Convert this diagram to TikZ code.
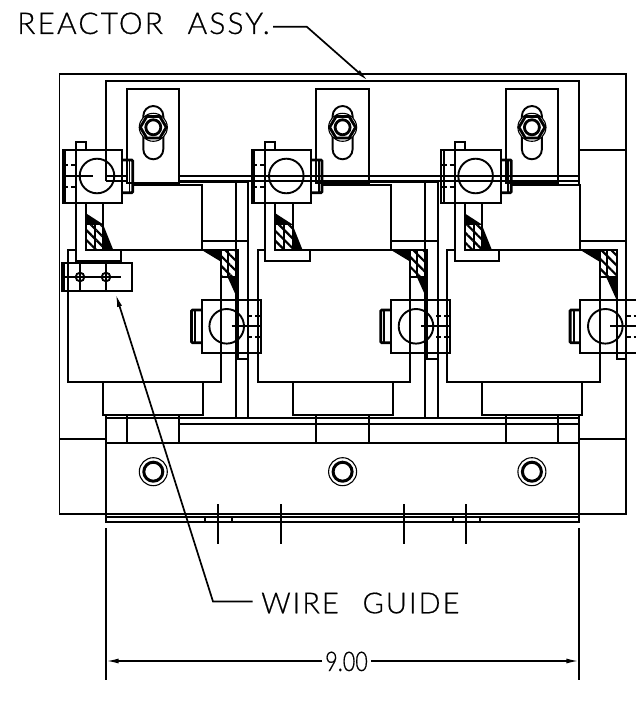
\documentclass[tikz,border=0pt]{standalone}
\usepackage{fontspec}
\usetikzlibrary{arrows.meta,patterns.meta}
\newfontfamily\cadfont[UprightFont=* Light,LetterSpace=7,WordSpace=2.4,FakeBold=0.6]{Lato}
\newfontfamily\cadnum[UprightFont=* Light,FakeStretch=0.8,FakeBold=0.6]{Lato}
\tikzset{
  obj/.style={draw,line width=1.9pt},
  heavy/.style={draw,line width=2.8pt},
  thin line/.style={draw,line width=1.1pt},
  blk/.style={fill=black,draw=none},
  hatch/.style={draw,line width=1.9pt,pattern={Lines[angle=-45,distance=7pt,line width=2.2pt]}},
  label/.style={font=\cadfont\fontsize{30}{30}\selectfont,inner sep=0pt,anchor=base west},
  leader/.style={draw,line width=1.7pt,-{Latex[length=13pt,width=5pt]}}
}
\begin{document}
\begin{tikzpicture}[x=1pt,y=-1pt]
\useasboundingbox (0,0) rectangle (635,708);
\fill[white] (0,0) rectangle (635,708);
% outer frame and reactor frame
\path[obj] (59.5,74) rectangle (625.7,513.7);
\path[obj] (105.7,181) -- (105.7,80.7) -- (579.3,80.7) -- (579.3,184);
\path[obj] (579.3,150) -- (625.7,150);
\path[obj] (59.5,438.7) -- (105.7,438.7);
\path[obj] (579.3,438.7) -- (625.7,438.7);
\path[obj] (105.7,175.7) -- (126,175.7);
\path[obj] (105.7,180.7) -- (126,180.7);
\path[obj] (179.3,175.7) -- (579.3,175.7);
\path[obj] (179.3,180.7) -- (579.3,180.7);
% bottom plate
\path[obj] (105.7,415) -- (105.7,522.3) -- (579.3,522.3) -- (579.3,415);
\path[obj] (105.7,417.7) -- (579.3,417.7);
\path[obj] (179.3,424.3) -- (579.3,424.3);
\path[obj] (105.7,443.3) -- (579.3,443.3);
\path[obj] (105.7,516.7) -- (579.3,516.7);
\foreach \tx in {205,231.7,453.3,479.7}
  \path[obj] (\tx,516.7) -- (\tx,522.3);
\foreach \tx in {218.3,281,403.7,466.3}
  \path[obj] (\tx,504) -- (\tx,544);
% the three phases
\foreach \dx in {0,189.3,378.6}{
\begin{scope}[xshift=\dx pt]
% bracket, slot and nut
\path[obj] (127,89.3) rectangle (179.3,183);
\path[obj] (127,415) -- (127,443.3);
\path[obj] (179.3,415) -- (179.3,443.3);
\path[obj] (143.3,116) arc[start angle=180,end angle=360,radius=10] -- (163.3,149.3)
  arc[start angle=0,end angle=180,radius=10] -- cycle;
\path[thin line,fill=white] (153.3,127.3) circle (14);
\path[heavy] (140.3,127.3) -- (146.8,116.5) -- (159.8,116.5) -- (166.3,127.3)
  -- (159.8,138.1) -- (146.8,138.1) -- cycle;
\path[draw,line width=2.8pt] (153.3,127.3) circle (7.5);
% upper lug
\path[obj] (62.7,150) rectangle (122,202.7);
\path[obj] (65,150) -- (65,202.7);
\path[obj] (86,150) -- (86,142) -- (76,142) -- (76,260.7) -- (120.7,260.7) -- (120.7,250);
\path[obj] (97,176) circle (17.3);
\path[obj] (66,176) -- (92.7,176);
\foreach \ty in {165,186.7}
  \path[obj,dash pattern=on 5pt off 3pt] (63,\ty) -- (76,\ty);
\path[heavy,rounded corners=1pt] (122,160) -- (132.7,160) -- (132.7,192.7) -- (122,192.7);
\path[obj] (129.5,160) -- (129.5,192.7);
% core block
\path[obj] (132,185) -- (201.7,185) -- (201.7,250) -- (86,250);
\path[obj] (103.3,202.7) -- (103.3,225);
\path[obj] (86,202.7) -- (86,250);
% left winding section
\path[hatch] (86,224.5) rectangle (103.3,250);
\path[obj] (95,224.5) -- (95,250);
\path[blk] (86,213.3) -- (103.3,224.5) -- (86,224.5) -- cycle;
\path[blk] (103.3,225) -- (113.3,250) -- (103.3,250) -- cycle;
% coil and foot
\path[obj] (76,250) -- (68.3,250) -- (68.3,382.3) -- (221,382.3) -- (221,250);
\path[obj] (103.3,382.3) -- (103.3,415) -- (203.3,415) -- (203.3,382.3);
% right winding section
\path[obj] (201.7,241) -- (248.3,241);
\path[hatch] (221,250) rectangle (238,277.3);
\path[obj] (201.7,250) -- (238,250);
\path[obj] (228,250) -- (228,277.3);
\path[blk] (201.7,250) -- (221,261.7) -- (221,250) -- cycle;
\path[blk] (227.7,277.3) -- (238,300) -- (238,277.3) -- cycle;
\path[obj] (238,277.3) -- (238,359.3) -- (248.3,359.3);
% lower lug
\path[obj] (201.7,300) rectangle (261,352.7);
\path[obj] (226.7,326.3) circle (17.3);
\path[obj] (231.7,326.3) -- (260,326.3);
\foreach \ty in {316,336.7}
  \path[obj,dash pattern=on 5pt off 3pt] (247,\ty) -- (261,\ty);
\path[heavy,rounded corners=1pt] (201.7,310) -- (191.5,310) -- (191.5,342.7) -- (201.7,342.7);
\path[obj] (195,310) -- (195,342.7);
% bolt in the plate
\path[thin line] (153.3,471.7) circle (14);
\path[draw,line width=3pt] (153.3,471.7) circle (9.5);
\end{scope}
}
% verticals between phases
\foreach \vx in {236,248.3,425.3,437.6}
  \path[obj] (\vx,182) -- (\vx,418);
\path[obj] (179.3,182) -- (248.3,182);
\path[obj] (368.6,182) -- (437.6,182);
% wire guide
\path[obj] (61.7,263.3) rectangle (132.3,290.7);
\path[obj] (64.2,263.3) -- (64.2,290.7);
\path[obj] (64,277) -- (120.7,277);
\foreach \hx in {80,106}{
  \path[obj] (\hx,260.7) -- (\hx,292);
  \path[obj] (\hx,277) circle (4.3);
}
% dimension
\path[obj] (105.7,528) -- (105.7,680);
\path[obj] (579.3,528) -- (579.3,680);
% labels and leaders
\node[label] (reactor) at (17,34) {REACTOR ASSY.};
\node[label,font=\cadfont\fontsize{29}{29}\selectfont] (wire) at (261,613.3) {WIRE GUIDE};
\node[label,font=\cadnum\fontsize{27}{27}\selectfont] (dim) at (325,671) {9.00};
\coordinate (r0) at (273,26.7);
\coordinate (r1) at (306.7,26.7);
\coordinate (r2) at (368,80.7);
\coordinate (w0) at (252.7,601.5);
\coordinate (w1) at (213,601.5);
\coordinate (w2) at (115.7,294);
\coordinate (d1) at (105.7,661);
\coordinate (d2) at (579.3,661);
\path[leader] (r0) -- (r1) -- (r2);
\path[leader] (w0) -- (w1) -- (w2);
\path[leader] (dim.west |- d1) ++(-3,0) -- (d1);
\path[leader] (dim.east |- d2) ++(3,0) -- (d2);
\end{tikzpicture}
\end{document}
